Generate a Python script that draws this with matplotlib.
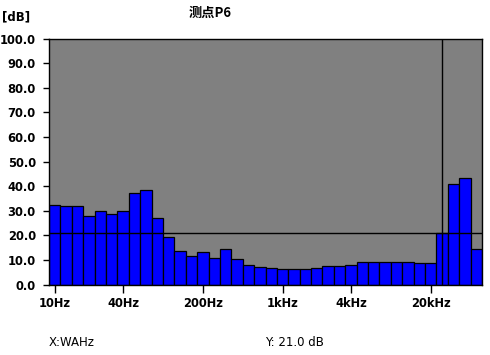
import matplotlib
matplotlib.use('Agg')
import matplotlib.pyplot as plt
import numpy as np

# 1/3 octave bands from 10 Hz to 50 kHz
bands = ['10', '12.5', '16', '20', '25', '31.5', '40', '50', '63', '80',
         '100', '125', '160', '200', '250', '315', '400', '500', '630', '800',
         '1k', '1.25k', '1.6k', '2k', '2.5k', '3.15k', '4k', '5k', '6.3k', '8k',
         '10k', '12.5k', '16k', '20k', '25k', '31.5k', '40k', '50k']
levels = [32.5, 31.9, 31.9, 27.9, 29.9, 28.7, 29.9, 37.1, 38.4, 26.9,
          19.2, 13.6, 11.6, 13.2, 10.7, 14.4, 10.3, 7.8, 7.0, 6.6,
          6.2, 6.2, 6.2, 6.6, 7.4, 7.4, 7.8, 9.0, 9.0, 9.0,
          9.0, 9.0, 8.6, 8.6, 21.0, 40.8, 43.2, 14.3]
tick_bands = ['10', '40', '200', '1k', '4k', '20k']
tick_labels = ['10Hz', '40Hz', '200Hz', '1kHz', '4kHz', '20kHz']
cursor_band = '25k'
cursor_y = 21.0
yticks = np.arange(0, 101, 10)

fig = plt.figure(figsize=(4.9, 3.55), dpi=100)
ax = fig.add_axes([49 / 490, 1 - 284.5 / 355, 433 / 490, (284.5 - 38.7) / 355])
ax.set_facecolor('#808080')

x = np.arange(len(bands))
ax.bar(x, levels, width=1.0, color='#0000FF', edgecolor='black', linewidth=0.9)

ax.set_xlim(-0.5, len(bands) - 0.5)
ax.set_ylim(0, 100)
ax.set_xticks([bands.index(b) for b in tick_bands])
ax.set_xticklabels(tick_labels)
ax.set_yticks(yticks)
ax.set_yticklabels(['%.1f' % v for v in yticks])
ax.tick_params(axis='both', direction='out', width=1, colors='black', labelsize=8.3)
ax.tick_params(axis='y', length=4.5, pad=5)
ax.tick_params(axis='x', length=6, pad=3)
for lab in ax.get_xticklabels() + ax.get_yticklabels():
    lab.set_fontweight('bold')
for s in ax.spines.values():
    s.set_color('black')
    s.set_linewidth(1)

# cursor lines
ax.axhline(cursor_y, color='black', linewidth=1)
ax.axvline(bands.index(cursor_band), color='black', linewidth=1)

fig.text(2 / 490, 1 - 17 / 355, '[dB]', fontsize=8.5, fontweight='bold', va='center')
fig.text(210 / 490, 1 - 13 / 355, '测点P6', fontsize=9.5, fontweight='bold',
         ha='center', va='center', family=['Noto Sans CJK SC', 'DejaVu Sans'])
fig.text(49 / 490, 1 - 343 / 355, 'X:WAHz', fontsize=8.5, va='center')
fig.text(265 / 490, 1 - 343 / 355, 'Y: %.1f dB' % cursor_y, fontsize=8.5, va='center')

fig.savefig('out.png', dpi=100)
